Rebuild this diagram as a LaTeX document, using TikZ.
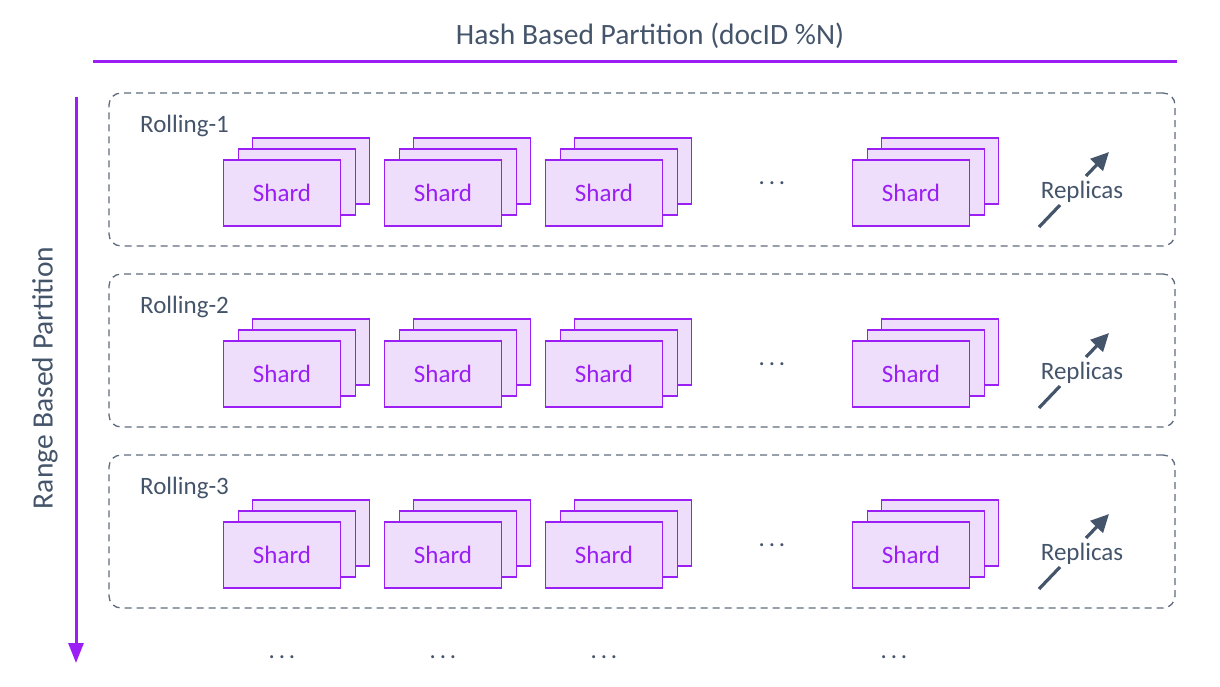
\documentclass[tikz,border=0pt]{standalone}
\usepackage{fontspec}
\setmainfont{Carlito}
\usetikzlibrary{arrows.meta}
\definecolor{pur}{HTML}{9B1FF5}
\definecolor{shfill}{HTML}{EEDDFB}
\definecolor{txt}{HTML}{44546A}
\definecolor{dashc}{HTML}{5F6B7E}
\newcommand{\mydots}{.\kern3.8pt.\kern3.8pt.}
\begin{document}
\begin{tikzpicture}[x=1pt,y=-1pt,
  every node/.style={font=\fontsize{25}{29}\selectfont},
  bigtext/.style={font=\fontsize{29.5}{34}\selectfont},
  shardbox/.style={draw=pur, fill=shfill, line width=1.4pt, minimum width=117pt, minimum height=66pt, inner sep=0pt, text=pur},
  rollbox/.style={draw=dashc, line width=1.3pt, dash pattern=on 7pt off 5pt, rounded corners=12pt, minimum width=1066pt, minimum height=153pt, inner sep=0pt},
  gtext/.style={text=txt, inner sep=0pt},
  reparrow/.style={draw=txt, line width=3.2pt, line cap=butt},
  purline/.style={draw=pur, line width=3pt}
]
\useasboundingbox (0,0) rectangle (1220,686);

% title and top line
\node[gtext, bigtext] (title) at (650,36) {Hash Based Partition (docID \%N)};
\coordinate (tl) at (93,61);
\coordinate (tr) at (1177,61);
\draw[purline] (tl) -- (tr);

% vertical arrow
\coordinate (vt) at (76,97);
\coordinate (vb) at (76,663);
\draw[purline, -{Triangle[length=20pt,width=15pt]}] (vt) -- (vb);
\node[gtext, bigtext, rotate=90] (range) at (45,378) {Range Based Partition};

\foreach \r/\dy in {1/0, 2/181, 3/362} {
  \node[rollbox] (row\r) at (642,{169.5+\dy}) {};
  \node[gtext, anchor=west] (roll\r) at (140,{126+\dy}) {Rolling-\r};
  \foreach \c/\x in {1/282, 2/443, 3/604, 4/911} {
    \node[shardbox] (s\r\c c) at ({\x+29},{171+\dy}) {};
    \node[shardbox] (s\r\c b) at ({\x+15},{182+\dy}) {};
    \node[shardbox] (s\r\c a) at (\x,{193+\dy}) {Shard};
  }
  \node[gtext, anchor=base] (dots\r) at (772,{184.5+\dy}) {\mydots};
  \node[gtext] (rep\r) at (1082,{192+\dy}) {Replicas};
  \coordinate (ra\r) at (1039,{227+\dy});
  \coordinate (rb\r) at (1060,{205+\dy});
  \coordinate (rc\r) at (1086,{176+\dy});
  \coordinate (rd\r) at (1109,{152+\dy});
  \draw[reparrow] (ra\r) -- (rb\r);
  \draw[reparrow, -{Triangle[length=18pt,width=17pt]}] (rc\r) -- (rd\r);
}

% bottom dots
\foreach \i/\x in {1/282, 2/443, 3/604, 4/894} {
  \node[gtext, anchor=base] (bd\i) at (\x,658.5) {\mydots};
}
\end{tikzpicture}
\end{document}
